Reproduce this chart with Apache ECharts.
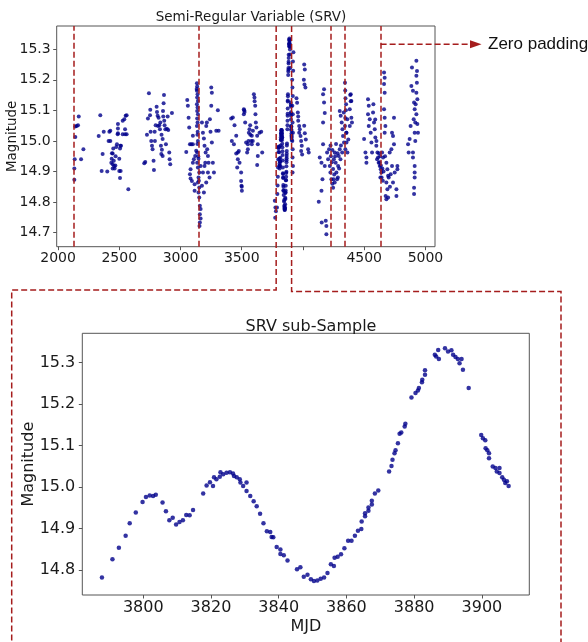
<!DOCTYPE html>
<html>
<head>
<meta charset="utf-8">
<script src="https://cdn.jsdelivr.net/npm/echarts@6/dist/echarts.min.js"></script>
<style>
html,body{margin:0;padding:0;background:#fff;}
#c{width:588px;height:642px;}
</style>
</head>
<body>
<div id="c"></div>
<script>
// ---------- DATA ----------
const topTitle = 'Semi-Regular Variable (SRV)';
const subTitle = 'SRV sub-Sample';
const yName = 'Magnitude';
const xName = 'MJD';
const noteText = 'Zero padding';

const topXTicks = [2000, 2500, 3000, 3500, 4000, 4500, 5000];
const topXLabels = [2000, 2500, 3000, 3500, 4500, 5000];
const topYTicks = [14.7, 14.8, 14.9, 15.0, 15.1, 15.2, 15.3];
const subXTicks = [3800, 3820, 3840, 3860, 3880, 3900];
const subYTicks = [14.8, 14.9, 15.0, 15.1, 15.2, 15.3];

const topXRange = [1989, 5078];
const topYRange = [14.654, 15.376];
const subXRange = [3782, 3914];
const subYRange = [14.740, 15.371];

// window boundaries (red dashed lines) in MJD
const windowLines = [2128, 3145, 4229, 4343, 4634];
const subWindow = [3781, 3907];
const paddingLine = 4634;

const season1 = [[2133,14.873],[2133,14.910],[2136,14.940],[2141,15.013],[2141,15.047],[2152,15.049],[2163,15.051],[2169,15.080],[2188,14.940],[2207,14.973]];
const season2 = [[2332,15.016],[2345,15.084],[2356,14.902],[2364,14.957],[2373,15.030],[2402,14.900],[2413,15.000],[2419,15.030],[2427,15.033],[2427,15.000],[2451,14.975],[2446,14.959],[2438,14.942],[2435,14.929],[2446,14.924],[2457,14.918],[2462,14.910],[2446,14.910],[2468,14.920],[2481,14.989],[2489,15.025],[2489,15.055],[2489,15.041],[2500,14.942],[2506,14.975],[2509,14.984],[2514,14.984],[2500,14.902],[2511,14.902],[2506,14.879],[2528,15.066],[2541,15.071],[2547,15.038],[2552,15.082],[2560,15.084],[2528,15.022],[2547,15.022],[2560,15.022],[2574,14.842],[2487,15.022],[2470,14.950],[2455,14.935],[2440,14.960],[2475,14.980]];
const season3 = [[2704,14.927],[2712,14.931],[2726,15.020],[2734,15.073],[2742,15.156],[2751,15.084],[2753,15.102],[2756,15.030],[2761,15.000],[2767,14.984],[2772,14.973],[2780,14.935],[2783,14.905],[2789,15.030],[2791,15.000],[2797,15.051],[2805,15.112],[2808,15.095],[2813,15.082],[2816,15.049],[2821,15.076],[2827,15.051],[2832,15.038],[2840,14.984],[2843,14.957],[2848,14.971],[2854,15.006],[2857,15.098],[2859,15.080],[2862,15.123],[2865,15.150],[2867,15.066],[2870,15.051],[2876,15.038],[2881,14.989],[2889,15.040],[2895,15.080],[2900,15.036],[2908,14.962],[2911,14.940],[2916,14.924],[2930,15.091],[2854,14.951],[2835,15.060],[2845,15.020]];
const season4 = [[3055,15.134],[3060,15.115],[3066,15.076],[3071,15.044],[3047,14.964],[3077,14.989],[3088,14.989],[3101,15.017],[3101,14.989],[3082,14.907],[3077,14.891],[3082,14.877],[3093,14.869],[3115,14.858],[3115,14.837],[3101,14.929],[3109,14.940],[3120,14.951],[3128,14.968],
  [3134,15.189],[3136,15.178],[3134,15.164],[3139,15.153],[3136,15.142],[3142,15.131],[3134,15.120],[3139,15.109],[3136,15.098],[3142,15.087],[3136,15.073],[3139,15.060],[3134,15.049],[3142,15.000],[3136,14.962],[3147,14.942],[3136,14.929],[3142,14.913],[3153,14.897],[3147,14.880],[3142,14.864],[3153,14.848],[3147,14.831],[3153,14.815],[3158,14.788],[3164,14.777],[3158,14.760],[3164,14.746],[3158,14.733],[3155,14.722],[3140,15.030],[3138,14.990],[3145,14.950],[3132,15.170],[3150,14.870],[3138,15.020],
  [3175,15.060],[3183,15.027],[3191,15.008],[3196,14.984],[3205,14.962],[3210,15.049],[3215,15.060],[3218,14.973],[3224,14.951],[3229,14.929],[3224,14.897],[3237,14.880],[3251,15.175],[3256,15.158],[3251,15.115],[3240,15.071],[3245,15.030],[3256,14.995],[3264,14.929],[3273,14.897],[3292,15.033],[3311,15.033],[3305,15.100],[3183,14.897],[3196,14.918],[3175,14.853],[3191,14.831],[3210,14.864],[3202,14.929],[3164,14.918]];
const season5 = [[3414,15.073],[3427,15.077],[3441,15.051],[3419,15.000],[3455,15.017],[3436,14.989],[3455,14.959],[3468,14.962],[3476,14.967],[3468,14.940],[3463,14.913],[3482,14.929],[3495,14.897],[3495,14.869],[3498,14.853],[3501,14.837],[3517,15.104],[3523,15.095],[3517,15.087],[3528,15.060],[3536,14.995],[3544,14.962],[3550,14.989],[3555,15.000],[3558,15.027],[3563,15.038],[3569,15.051],[3577,15.000],[3582,15.017],[3582,14.989],[3591,15.033],[3599,15.153],[3604,15.142],[3610,15.115],[3612,15.087],[3615,15.060],[3620,15.044],[3626,15.017],[3631,14.989],[3631,14.951],[3626,14.921],[3645,15.027],[3659,15.030],[3667,14.962],[3550,14.973],[3520,15.100],[3605,15.130],[3570,15.020],[3590,15.000],[3500,14.850]];
const season6 = [[3770,14.804],[3775,14.782],[3773,14.749],[3779,14.770],
  [3912,15.200],[3914,15.175],[3917,15.147],[3913,15.115],[3917,15.087],[3915,15.060],[3918,15.027],[3913,15.000],[3916,14.973],[3915,14.946],[3918,14.918],[3915,14.897],[3920,15.230],[3918,15.260],[3922,15.290],
  [3947,15.140],[3952,15.125],[3958,15.093],[3961,15.066],[3969,15.049],[3974,15.038],[3980,15.016],[3985,15.000],[3990,14.984],[3985,14.967],[3993,14.956],[3961,15.080],[3969,15.027],
  [4010,15.250],[4015,15.234],[4007,15.200],[4012,15.185],[4020,15.175],[4042,14.973],[4047,14.962],[4015,15.025],[4023,15.005],[4010,15.050]];
const season7 = [[4172,15.169],[4164,15.153],[4172,15.126],[4178,15.091],[4164,15.060],[4164,14.989],[4137,14.946],[4151,14.929],[4159,14.875],[4151,14.837],[4129,14.801],[4153,14.733],[4186,14.739],[4191,14.722],[4191,14.695],[4178,14.918],[4197,14.962],[4205,14.940],[4213,14.973],
  [4219,14.918],[4224,14.897],[4232,14.875],[4240,14.860],[4246,14.908],[4252,14.940],[4259,14.962],[4267,14.929],[4273,14.897],[4279,14.875],[4287,14.918],[4292,14.951],[4300,14.973],[4306,14.940],[4246,14.847],[4259,14.864],[4228,14.950],[4236,14.930],[4255,14.890],[4263,14.950],[4270,14.990],[4283,14.960],[4295,14.910],[4310,14.985],[4240,14.970],[4225,14.985],[4250,14.875],[4285,14.880],
  [4300,15.098],[4308,15.082],[4316,15.060],[4322,15.038],[4327,15.016],[4335,14.995],[4343,15.049],[4354,15.027],[4362,15.071],[4370,15.005],[4333,15.093],[4320,14.962],[4346,14.973],
  [4390,15.153],[4395,15.131],[4382,15.104],[4395,15.076],[4400,15.060],[4382,15.049],[4355,15.027],[4355,14.995],[4363,14.962],[4350,15.100],[4345,15.075],[4343,15.190],[4345,15.165],[4347,15.140],[4352,15.120],[4386,15.150],[4390,15.130]];
const season8 = [[4499,15.006],[4510,14.962],[4518,14.946],[4518,14.929],[4531,15.136],[4537,15.115],[4531,15.087],[4545,15.071],[4537,15.049],[4553,15.027],[4559,14.995],[4564,14.962],[4572,15.093],[4580,15.060],[4586,15.038],[4591,15.011],[4599,14.984],[4608,14.962],[4613,14.946],[4618,14.929],[4627,14.918],[4605,14.940],[4635,14.907],[4640,14.897],[4646,14.962],[4654,14.946],[4662,15.224],[4667,15.207],[4662,15.186],[4667,15.158],[4662,15.104],[4667,15.076],[4673,15.049],[4667,15.027],[4681,14.929],[4689,14.907],[4695,14.886],[4681,14.864],[4689,14.842],[4695,14.815],[4681,14.809],[4708,14.962],[4722,14.973],[4727,15.027],[4735,15.016],[4743,15.076],[4743,14.989],[4727,14.918],[4735,14.864],[4763,14.842],[4763,14.820],[4771,14.918],[4771,14.907],[4749,14.897],[4716,14.891],
  [4625,14.930],[4630,14.950],[4636,14.920],[4642,14.880],[4648,14.910],[4652,14.870],[4658,14.900],[4632,14.880],[4620,14.960],[4600,15.000],[4590,15.070],[4575,15.120],[4670,14.950],[4700,14.880],[4710,14.850],[4675,14.820]];
const season9 = [[4858,14.989],[4863,14.962],[4871,15.006],[4879,15.049],[4885,15.180],[4890,15.240],[4898,15.164],[4907,15.126],[4912,15.104],[4904,15.071],[4917,15.060],[4912,15.027],[4926,15.262],[4931,15.229],[4926,15.213],[4926,15.158],[4934,15.136],[4926,15.087],[4934,15.055],[4939,15.027],[4917,15.000],[4898,14.962],[4898,14.946],[4912,14.918],[4912,14.897],[4912,14.880],[4907,14.847],[4907,14.826],[4930,15.190],[4920,15.120]];

// the sub-sample window (also part of the full light curve)
const subSample = [[3787.8,14.782],[3790.9,14.826],[3792.8,14.854],[3794.8,14.883],[3796.0,14.913],[3797.8,14.939],[3799.8,14.964],[3800.8,14.976],[3801.9,14.980],[3802.9,14.979],[3803.7,14.982],[3805.7,14.963],[3806.7,14.942],[3807.7,14.920],[3808.7,14.926],[3809.7,14.910],[3810.7,14.916],[3811.7,14.920],[3812.7,14.933],[3813.7,14.932],[3814.7,14.945],[3817.7,14.985],[3818.7,15.004],[3819.7,15.012],[3820.6,15.003],[3820.9,15.024],[3821.6,15.019],[3822.6,15.025],[3822.8,15.036],[3823.6,15.031],[3824.6,15.035],[3825.6,15.036],[3826.5,15.033],[3826.8,15.027],[3827.6,15.024],[3828.5,15.019],[3828.7,15.011],[3829.5,15.003],[3830.5,15.011],[3830.5,14.991],[3831.6,14.979],[3832.6,14.966],[3833.5,14.954],[3834.5,14.936],[3835.5,14.913],[3836.5,14.894],[3837.5,14.892],[3837.9,14.880],[3838.4,14.879],[3839.4,14.856],[3840.5,14.850],[3840.5,14.839],[3841.5,14.836],[3842.6,14.823],[3845.4,14.802],[3846.4,14.807],[3847.4,14.784],[3848.5,14.789],[3849.5,14.778],[3850.4,14.774],[3851.4,14.775],[3852.4,14.779],[3853.4,14.782],[3854.4,14.793],[3855.4,14.814],[3856.3,14.810],[3856.5,14.830],[3857.4,14.832],[3858.4,14.838],[3859.4,14.853],[3860.5,14.871],[3861.5,14.871],[3862.5,14.883],[3863.4,14.895],[3864.4,14.899],[3864.5,14.917],[3865.5,14.930],[3865.5,14.937],[3866.5,14.943],[3866.5,14.951],[3867.5,14.958],[3867.5,14.967],[3868.4,14.985],[3869.4,14.992],[3872.6,15.038],[3873.3,15.051],[3873.6,15.066],[3874.2,15.082],[3874.5,15.089],[3875.2,15.106],[3875.7,15.129],[3876.2,15.132],[3877.2,15.146],[3877.4,15.153],[3879.2,15.216],[3880.4,15.227],[3881.1,15.233],[3881.4,15.239],[3882.3,15.253],[3882.4,15.259],[3883.2,15.271],[3883.2,15.282],[3886.1,15.319],[3886.5,15.315],[3887.1,15.331],[3887.3,15.309],[3889.1,15.335],[3890.0,15.327],[3891.0,15.330],[3891.5,15.319],[3892.2,15.314],[3892.9,15.309],[3893.4,15.299],[3894.0,15.309],[3894.4,15.283],[3896.1,15.239],[3899.8,15.126],[3900.3,15.118],[3901.0,15.113],[3901.1,15.094],[3901.6,15.089],[3902.1,15.082],[3902.1,15.070],[3903.2,15.050],[3904.0,15.046],[3904.4,15.038],[3905.2,15.046],[3905.2,15.034],[3906.0,15.024],[3906.5,15.018],[3906.9,15.010],[3907.4,15.014],[3907.9,15.003]];

// ---------- STYLE ----------
const FONT = 'DejaVu Sans';
const DOT = '#00008b';
const RED = '#a51d1d';
const FRAME = '#555';
const TXT = '#1a1a1a';
const DASH = [6, 3];

const fullCurve = [].concat(season1, season2, season3, season4, season5, season6, subSample, season7, season8, season9);

const fmtInt = v => String(Math.round(v));
const fmt1 = v => v.toFixed(1);

function makeAxis(o){
  return {
    type: 'value',
    gridIndex: o.grid,
    min: o.range[0], max: o.range[1],
    name: o.name || '', nameLocation: 'middle', nameGap: o.nameGap || 0,
    nameMoveOverlap: false,
    nameTextStyle: {color: TXT, fontFamily: FONT, fontSize: o.nameSize || o.fs},
    axisLine: {show: false},
    splitLine: {show: false},
    axisTick: {show: true, length: 3.5, lineStyle: {color: FRAME, width: 1}, customValues: o.ticks},
    axisLabel: {color: TXT, fontFamily: FONT, fontSize: o.fs, margin: o.margin,
      customValues: o.labels || o.ticks, formatter: o.fmt, hideOverlap: false}
  };
}

const chart = echarts.init(document.getElementById('c'), null, {renderer: 'canvas'});

const option = {
  animation: false,
  backgroundColor: '#fff',
  title: [
    {text: topTitle, left: 246, top: 5, textAlign: 'center',
     textStyle: {fontFamily: FONT, fontSize: 13.5, fontWeight: 'normal', color: TXT}},
    {text: subTitle, left: 306, top: 314, textAlign: 'center',
     textStyle: {fontFamily: FONT, fontSize: 16, fontWeight: 'normal', color: TXT}}
  ],
  grid: [
    {left: 56.7, top: 26, width: 378.3, height: 220.7, show: true, borderColor: FRAME, borderWidth: 1,
     backgroundColor: 'transparent', containLabel: false, outerBoundsMode: 'none'},
    {left: 82.3, top: 333.3, width: 447, height: 261.7, show: true, borderColor: FRAME, borderWidth: 1,
     backgroundColor: 'transparent', containLabel: false, outerBoundsMode: 'none'}
  ],
  xAxis: [
    makeAxis({grid: 0, range: topXRange, ticks: topXTicks, labels: topXLabels, fs: 14, margin: 5, fmt: fmtInt}),
    makeAxis({grid: 1, range: subXRange, ticks: subXTicks, fs: 16, margin: 5, fmt: fmtInt, name: xName, nameGap: 24})
  ],
  yAxis: [
    makeAxis({grid: 0, range: topYRange, ticks: topYTicks, fs: 14, margin: 6, fmt: fmt1, name: yName, nameGap: 37, nameSize: 13.5}),
    makeAxis({grid: 1, range: subYRange, ticks: subYTicks, fs: 16, margin: 7, fmt: fmt1, name: yName, nameGap: 45})
  ],
  series: [
    {type: 'scatter', xAxisIndex: 0, yAxisIndex: 0, data: fullCurve, symbolSize: 4,
     itemStyle: {color: DOT}, silent: true,
     markLine: {silent: true, symbol: ['none', 'none'], label: {show: false},
       lineStyle: {color: RED, type: DASH, width: 1.5},
       data: windowLines.map(v => ({xAxis: v}))}},
    {type: 'scatter', xAxisIndex: 1, yAxisIndex: 1, data: subSample, symbolSize: 4.5,
     itemStyle: {color: DOT}, silent: true}
  ]
};
chart.setOption(option);

// annotation: connectors from the sub-sample window to the zoomed panel, and the zero-padding arrow
const gTop = 26;
const xL = chart.convertToPixel({gridIndex: 0}, [subWindow[0], 15])[0];
const xR = chart.convertToPixel({gridIndex: 0}, [subWindow[1], 15])[0];
const xP = chart.convertToPixel({gridIndex: 0}, [paddingLine, 15])[0];
const arrowY = 44.3;
const lineStyle = {stroke: RED, lineWidth: 1.5, lineDash: DASH, fill: null};
chart.setOption({
  graphic: [
    {type: 'polyline', shape: {points: [[xL, gTop], [xL, 290], [11.7, 290], [11.7, 650]]}, style: lineStyle, z: 10},
    {type: 'polyline', shape: {points: [[xR, gTop], [xR, 291.5], [561, 291.5], [561, 650]]}, style: lineStyle, z: 10},
    {type: 'line', shape: {x1: xP, y1: arrowY, x2: 472, y2: arrowY}, style: lineStyle, z: 10},
    {type: 'polygon', shape: {points: [[481.5, arrowY], [470, arrowY - 4], [470, arrowY + 4]]}, style: {fill: RED}, z: 10},
    {type: 'text', x: 488, y: arrowY, style: {text: noteText, fontFamily: 'Liberation Sans', fontSize: 17, fill: '#111', verticalAlign: 'middle', align: 'left'}, z: 10}
  ]
});
</script>
</body>
</html>
